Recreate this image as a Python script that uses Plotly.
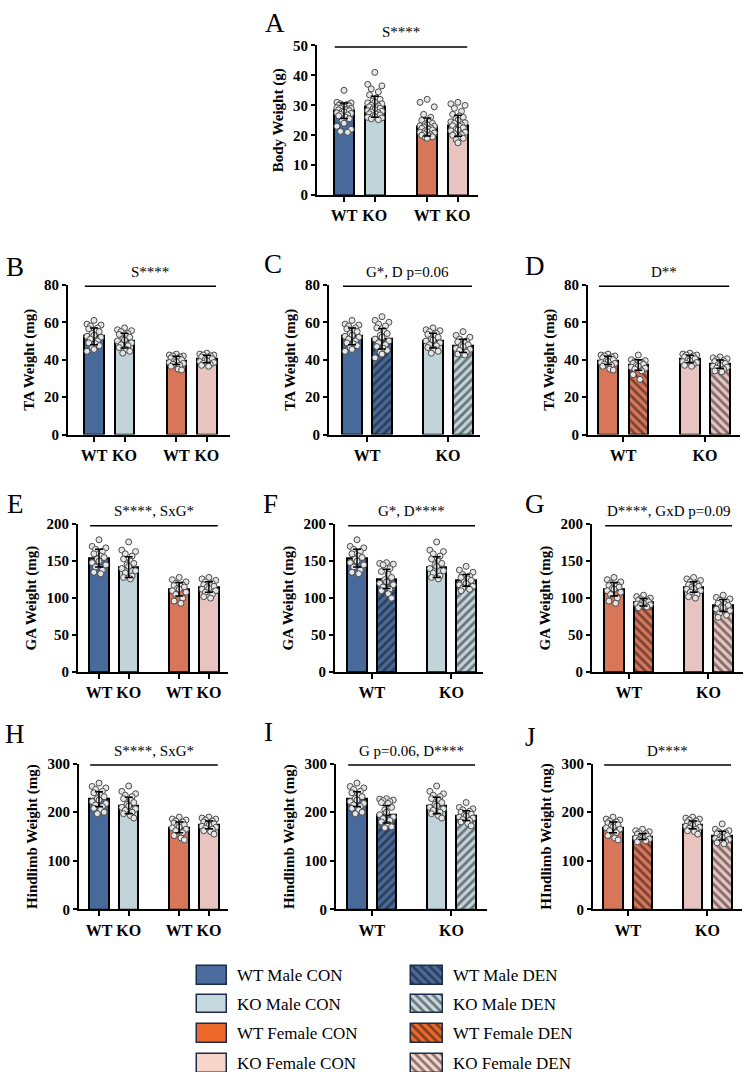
import plotly.graph_objects as go

# ---------------- DATA ----------------
BW_GROUPS = ["WT_M", "KO_M", "WT_F", "KO_F"]
BW_MEAN = [28.2, 29.5, 22.8, 23.2]
BW_SD = [2.6, 3.5, 3.0, 3.5]
BW_WT_M_PTS = [35.0, 31.0, 30.8, 30.5, 30.3, 30.0, 30.0, 29.8, 29.5, 29.5, 29.2, 29.0, 29.0, 28.8, 28.5,
               28.5, 28.2, 28.0, 27.8, 27.5, 27.3, 27.0, 26.8, 26.5, 26.0, 25.5, 25.0, 24.0, 23.0, 22.0, 21.3, 21.0]
BW_KO_M_PTS = [41.0, 37.0, 36.5, 35.5, 34.5, 33.5, 32.5, 32.0, 31.5, 31.0, 30.8, 30.5, 30.0, 29.8, 29.5,
               29.2, 29.0, 28.8, 28.5, 28.2, 28.0, 27.8, 27.5, 27.2, 27.0, 26.8, 26.5, 26.2, 26.0, 25.8, 25.5, 25.2]
BW_WT_F_PTS = [32.0, 31.0, 29.5, 27.0, 26.0, 25.0, 24.5, 24.0, 23.8, 23.5, 23.2, 23.0, 22.8, 22.5, 22.3,
               22.0, 21.8, 21.5, 21.2, 21.0, 20.8, 20.5, 20.2, 20.0, 19.8, 19.5, 19.2, 19.0]
BW_KO_F_PTS = [31.0, 30.5, 30.0, 29.0, 28.0, 27.0, 26.5, 26.0, 25.5, 25.0, 24.5, 24.2, 24.0, 23.5, 23.2,
               23.0, 22.5, 22.0, 21.8, 21.5, 21.0, 20.5, 20.2, 20.0, 19.5, 19.0, 18.5, 17.5]

GROUPS = ["WT_M_CON", "KO_M_CON", "WT_F_CON", "KO_F_CON", "WT_M_DEN", "KO_M_DEN", "WT_F_DEN", "KO_F_DEN"]

TA_MEAN = [52.5, 50.2, 39.6, 40.4, 51.2, 47.4, 37.2, 37.7]
TA_SD = [4.5, 4.0, 2.2, 2.0, 5.5, 3.5, 2.8, 2.2]
TA_WT_M_CON_PTS = [61.0, 59.0, 58.5, 58.0, 57.0, 56.5, 55.5, 55.0, 54.0, 53.0, 52.5, 52.0, 51.0, 50.0, 49.0, 48.5, 47.5, 46.5, 45.5, 44.5]
TA_KO_M_CON_PTS = [57.0, 56.0, 55.5, 55.0, 54.0, 53.5, 52.5, 52.0, 51.0, 50.5, 50.0, 49.0, 48.0, 47.5, 46.5, 45.5, 44.5, 43.5]
TA_WT_F_CON_PTS = [43.0, 42.5, 42.0, 42.0, 41.5, 41.0, 40.5, 40.0, 39.5, 39.0, 38.5, 38.0, 37.5, 37.0, 36.5, 35.0, 34.5]
TA_KO_F_CON_PTS = [43.5, 43.0, 42.5, 42.5, 42.0, 41.5, 41.0, 40.5, 40.0, 39.5, 39.0, 38.5, 38.0, 37.5, 37.0, 36.5]
TA_WT_M_DEN_PTS = [63.0, 61.0, 60.0, 59.0, 58.0, 57.0, 55.5, 54.0, 53.0, 52.0, 51.0, 50.0, 49.0, 48.0, 47.0, 46.0, 45.0, 44.0, 43.0, 41.0]
TA_KO_M_DEN_PTS = [55.0, 53.0, 52.0, 51.0, 50.0, 49.5, 49.0, 48.0, 47.5, 47.0, 46.0, 45.5, 45.0, 44.0, 43.0, 42.5]
TA_WT_F_DEN_PTS = [42.5, 40.0, 39.5, 39.0, 38.5, 38.0, 38.0, 37.5, 37.0, 36.5, 36.0, 35.5, 35.0, 34.0, 32.0, 29.5]
TA_KO_F_DEN_PTS = [41.5, 41.0, 40.5, 40.0, 39.5, 39.0, 38.5, 38.0, 37.5, 37.0, 36.5, 36.0, 35.5, 35.0, 34.0, 33.5]

GA_MEAN = [154, 142, 112, 115, 126, 124, 94.5, 90]
GA_SD = [12, 14, 9, 7, 13, 8, 5, 8]
GA_WT_M_CON_PTS = [179, 170, 168, 166, 163, 160, 157, 155, 153, 150, 148, 145, 142, 138, 135, 133]
GA_KO_M_CON_PTS = [176, 165, 163, 160, 157, 153, 150, 147, 145, 143, 140, 137, 134, 130, 128, 126]
GA_WT_F_CON_PTS = [128, 125, 122, 120, 118, 117, 116, 115, 113, 112, 110, 108, 105, 100, 96, 93]
GA_KO_F_CON_PTS = [128, 126, 124, 122, 120, 118, 117, 116, 115, 113, 112, 110, 108, 105, 102, 100]
GA_WT_M_DEN_PTS = [148, 147, 146, 145, 140, 136, 132, 128, 125, 122, 120, 118, 115, 112, 110, 106, 100]
GA_KO_M_DEN_PTS = [143, 138, 135, 132, 130, 128, 126, 124, 122, 120, 118, 116, 114, 112, 110]
GA_WT_F_DEN_PTS = [104, 102, 100, 99, 98, 97, 96, 95, 94, 93, 92, 91, 90, 88, 87]
GA_KO_F_DEN_PTS = [104, 101, 99, 97, 95, 93, 92, 90, 88, 87, 85, 83, 80, 77, 74]

HL_MEAN = [227, 214, 169, 174, 196, 193, 150, 152]
HL_SD = [15, 17, 11, 8, 18, 10, 6, 9]
HL_WT_M_CON_PTS = [260, 253, 250, 247, 243, 240, 235, 232, 228, 225, 222, 218, 215, 212, 208, 205, 200, 197]
HL_KO_M_CON_PTS = [254, 243, 238, 235, 232, 228, 225, 220, 216, 213, 210, 207, 204, 200, 197, 193, 188]
HL_WT_F_CON_PTS = [190, 186, 184, 182, 180, 178, 176, 174, 172, 170, 168, 165, 162, 158, 152, 147, 143]
HL_KO_F_CON_PTS = [190, 188, 186, 184, 182, 180, 178, 176, 175, 173, 171, 169, 167, 165, 162, 160, 155]
HL_WT_M_DEN_PTS = [228, 227, 225, 224, 222, 220, 218, 210, 205, 200, 195, 190, 187, 183, 180, 175, 170, 168]
HL_KO_M_DEN_PTS = [220, 210, 207, 205, 202, 200, 198, 196, 194, 192, 190, 188, 185, 183, 180, 177, 172]
HL_WT_F_DEN_PTS = [165, 162, 160, 158, 156, 155, 153, 151, 150, 148, 147, 145, 143, 141, 139]
HL_KO_F_DEN_PTS = [176, 165, 162, 160, 158, 156, 154, 152, 150, 148, 146, 144, 142, 140, 137, 135]

LEGEND_LABELS = ["WT Male CON", "KO Male CON", "WT Female CON", "KO Female CON",
                 "WT Male DEN", "KO Male DEN", "WT Female DEN", "KO Female DEN"]

# ---------------- STYLE ----------------
W, H = 744, 1080
FONT = "Liberation Serif"
BAR_COLOR = {"WT_M": "#476a9a", "KO_M": "#c0d4da", "WT_F": "#d8765a", "KO_F": "#e8c4c0"}
LEG_COLOR = {"WT_M": "#4a6b9b", "KO_M": "#c5d9de", "WT_F": "#ee6a2c", "KO_F": "#f8d5c9"}
POS = [0.0, 1.0, 2.7, 3.7]

BW_PTS = {"WT_M": BW_WT_M_PTS, "KO_M": BW_KO_M_PTS, "WT_F": BW_WT_F_PTS, "KO_F": BW_KO_F_PTS}
TA_PTS = dict(zip(GROUPS, [TA_WT_M_CON_PTS, TA_KO_M_CON_PTS, TA_WT_F_CON_PTS, TA_KO_F_CON_PTS,
                           TA_WT_M_DEN_PTS, TA_KO_M_DEN_PTS, TA_WT_F_DEN_PTS, TA_KO_F_DEN_PTS]))
GA_PTS = dict(zip(GROUPS, [GA_WT_M_CON_PTS, GA_KO_M_CON_PTS, GA_WT_F_CON_PTS, GA_KO_F_CON_PTS,
                           GA_WT_M_DEN_PTS, GA_KO_M_DEN_PTS, GA_WT_F_DEN_PTS, GA_KO_F_DEN_PTS]))
HL_PTS = dict(zip(GROUPS, [HL_WT_M_CON_PTS, HL_KO_M_CON_PTS, HL_WT_F_CON_PTS, HL_KO_F_CON_PTS,
                           HL_WT_M_DEN_PTS, HL_KO_M_DEN_PTS, HL_WT_F_DEN_PTS, HL_KO_F_DEN_PTS]))
TA_STATS = {g: (m, s) for g, m, s in zip(GROUPS, TA_MEAN, TA_SD)}
GA_STATS = {g: (m, s) for g, m, s in zip(GROUPS, GA_MEAN, GA_SD)}
HL_STATS = {g: (m, s) for g, m, s in zip(GROUPS, HL_MEAN, HL_SD)}
BW_STATS = {g: (m, s) for g, m, s in zip(BW_GROUPS, BW_MEAN, BW_SD)}

SEX_GROUPS = ["WT_M_CON", "KO_M_CON", "WT_F_CON", "KO_F_CON"]
MALE_GROUPS = ["WT_M_CON", "WT_M_DEN", "KO_M_CON", "KO_M_DEN"]
FEMALE_GROUPS = ["WT_F_CON", "WT_F_DEN", "KO_F_CON", "KO_F_DEN"]

PANELS = [
    dict(letter="A", lx=275, ly=15, L=317, R=478, first=344, sp=30.8, top=38, zero=190,
         ymax=50, dtick=10, title="Body Weight (g)", stats=BW_STATS, pts=BW_PTS, groups=BW_GROUPS,
         sig="S****", two=False),
    dict(letter="B", lx=15, ly=263, L=68, R=230, first=94, sp=30.5, top=281, zero=433,
         ymax=80, dtick=20, title="TA Weight (mg)", stats=TA_STATS, pts=TA_PTS, groups=SEX_GROUPS,
         sig="S****", two=False),
    dict(letter="C", lx=273, ly=260, L=329, R=480, first=352, sp=30.0, top=281, zero=433,
         ymax=80, dtick=20, title="TA Weight (mg)", stats=TA_STATS, pts=TA_PTS, groups=MALE_GROUPS,
         sig="G*, D p=0.06", two=True),
    dict(letter="D", lx=535, ly=262, L=588, R=740, first=608, sp=30.3, top=281, zero=433,
         ymax=80, dtick=20, title="TA Weight (mg)", stats=TA_STATS, pts=TA_PTS, groups=FEMALE_GROUPS,
         sig="D**", two=True),
    dict(letter="E", lx=15, ly=503, L=78, R=228, first=99, sp=29.7, top=524, zero=674,
         ymax=200, dtick=50, title="GA Weight (mg)", stats=GA_STATS, pts=GA_PTS, groups=SEX_GROUPS,
         sig="S****, SxG*", two=False),
    dict(letter="F", lx=270, ly=503, L=335, R=483, first=357, sp=29.5, top=524, zero=674,
         ymax=200, dtick=50, title="GA Weight (mg)", stats=GA_STATS, pts=GA_PTS, groups=MALE_GROUPS,
         sig="G*, D****", two=True),
    dict(letter="G", lx=535, ly=503, L=592, R=743, first=614, sp=29.5, top=524, zero=674,
         ymax=200, dtick=50, title="GA Weight (mg)", stats=GA_STATS, pts=GA_PTS, groups=FEMALE_GROUPS,
         sig="D****, GxD p=0.09", two=True),
    dict(letter="H", lx=15, ly=737, L=79, R=228, first=99, sp=29.7, top=767, zero=915,
         ymax=300, dtick=100, title="Hindlimb Weight (mg)", stats=HL_STATS, pts=HL_PTS, groups=SEX_GROUPS,
         sig="S****, SxG*", two=False),
    dict(letter="I", lx=268, ly=735, L=336, R=487, first=357, sp=29.5, top=767, zero=915,
         ymax=300, dtick=100, title="Hindlimb Weight (mg)", stats=HL_STATS, pts=HL_PTS, groups=MALE_GROUPS,
         sig="G p=0.06, D****", two=True),
    dict(letter="J", lx=530, ly=740, L=593, R=742, first=613, sp=29.5, top=767, zero=915,
         ymax=300, dtick=100, title="HIndlimb Weight (mg)", stats=HL_STATS, pts=HL_PTS, groups=FEMALE_GROUPS,
         sig="D****", two=True),
]

JIT = [0.0, -1.0, 1.0, -0.5, 0.5, -0.75, 0.25, 0.75, -0.25]


def jitter(vals, spread):
    order = sorted(range(len(vals)), key=lambda i: -vals[i])
    off = [0.0] * len(vals)
    for k, i in enumerate(order):
        off[i] = JIT[k % len(JIT)] * spread
    return off


def color_of(g):
    return BAR_COLOR[g[:4]]


def pattern_of(g):
    if g.endswith("DEN"):
        return "/" if "_M_" in g else "\\"
    return ""


fig = go.Figure()
layout = dict()
shapes = []
annotations = []

for i, P in enumerate(PANELS):
    n = i + 1
    xa = "x" if n == 1 else f"x{n}"
    ya = "y" if n == 1 else f"y{n}"
    xk = "xaxis" if n == 1 else f"xaxis{n}"
    yk = "yaxis" if n == 1 else f"yaxis{n}"
    sp = P["sp"]
    xr = [(P["L"] - P["first"]) / sp, (P["R"] - P["first"]) / sp]
    bw = 19.5 / sp
    groups = P["groups"]
    means = [P["stats"][g][0] for g in groups]
    sds = [P["stats"][g][1] for g in groups]

    # one bar trace per group so each gets its own scalar colour / hatch
    for p, g, m in zip(POS, groups, means):
        c = color_of(g)
        fig.add_trace(go.Bar(
            x=[p], y=[m], width=bw, xaxis=xa, yaxis=ya, showlegend=False,
            marker=dict(color=c, line=dict(color="black", width=2),
                        pattern=dict(shape=pattern_of(g), fgcolor="#111111", bgcolor=c,
                                     size=6, solidity=0.45)),
        ))
    for p, g in zip(POS, groups):
        vals = P["pts"][g]
        offs = jitter(vals, 0.23)
        fig.add_trace(go.Scatter(
            x=[p + o for o in offs], y=vals, mode="markers", xaxis=xa, yaxis=ya, showlegend=False,
            marker=dict(size=6, color="#e6e6e6", line=dict(color="#4a4a4a", width=1)),
        ))
    fig.add_trace(go.Scatter(
        x=POS, y=means, mode="markers", xaxis=xa, yaxis=ya, showlegend=False,
        marker=dict(size=1, color="rgba(0,0,0,0)"),
        error_y=dict(type="data", array=sds, color="black", thickness=1.5, width=4),
    ))

    if P["two"]:
        tickvals = [(POS[0] + POS[1]) / 2, (POS[2] + POS[3]) / 2]
        ticktext = ["WT", "KO"]
    else:
        tickvals = POS
        ticktext = ["WT", "KO", "WT", "KO"]

    layout[xk] = dict(
        domain=[P["L"] / W, P["R"] / W], range=xr, anchor=ya,
        showline=True, linecolor="black", linewidth=2, ticks="outside", ticklen=5, tickwidth=2,
        tickcolor="black", tickvals=tickvals, ticktext=ticktext, showgrid=False, zeroline=False,
        tickfont=dict(family=FONT, size=16, color="black", weight="bold"), fixedrange=True,
    )
    layout[yk] = dict(
        domain=[1 - P["zero"] / H, 1 - P["top"] / H], range=[0, P["ymax"]], anchor=xa,
        showline=True, linecolor="black", linewidth=2, ticks="outside", ticklen=4, tickwidth=2,
        tickcolor="black", dtick=P["dtick"], showgrid=False, zeroline=False,
        tickfont=dict(family=FONT, size=15, color="black", weight="bold"),
        title=dict(text=P["title"], font=dict(family=FONT, size=15, color="black", weight="bold"), standoff=6),
        fixedrange=True,
    )
    x0, x1 = POS[0] - 0.3, POS[-1] + 0.3
    shapes.append(dict(type="line", xref=xa, yref=ya, x0=x0, x1=x1, y0=P["ymax"] * 0.99, y1=P["ymax"] * 0.99,
                       line=dict(color="black", width=1.5)))
    annotations.append(dict(xref=xa, yref=ya, x=(x0 + x1) / 2, y=P["ymax"], yshift=13, text=P["sig"],
                            showarrow=False, font=dict(family=FONT, size=15, color="black")))
    annotations.append(dict(xref="paper", yref="paper", x=P["lx"] / W, y=1 - P["ly"] / H, text=P["letter"],
                            showarrow=False, xanchor="center", yanchor="middle",
                            font=dict(family=FONT, size=27, color="black")))

# ---------------- LEGEND (key swatches on a hidden axis) ----------------
LEG_ROWS = [982, 1011, 1041, 1071]
LEG_COLS = [(197, 30, 235), (411, 32, 451)]
for k, (g, lab) in enumerate(zip(GROUPS, LEGEND_LABELS)):
    col = LEG_COLS[0] if k < 4 else LEG_COLS[1]
    row = LEG_ROWS[k % 4]
    c = LEG_COLOR[g[:4]]
    fig.add_trace(go.Bar(
        orientation="h", y=[row], x=[col[1]], base=[col[0]], width=19, xaxis="x11", yaxis="y11",
        showlegend=False,
        marker=dict(color=c, line=dict(color="#1d2b4a", width=1.5),
                    pattern=dict(shape="\\" if g.endswith("DEN") else "", fgcolor="#111111", bgcolor=c,
                                 size=6, solidity=0.45)),
    ))
    annotations.append(dict(xref="paper", yref="paper", x=col[2] / W, y=1 - row / H, text=lab,
                            showarrow=False, xanchor="left", yanchor="middle",
                            font=dict(family=FONT, size=17, color="black")))

layout["xaxis11"] = dict(domain=[0, 1], range=[0, W], anchor="y11", visible=False, fixedrange=True)
layout["yaxis11"] = dict(domain=[0, 1 - 950 / H], range=[H, 950], anchor="x11", visible=False, fixedrange=True)

fig.update_layout(
    width=W, height=H, margin=dict(l=0, r=0, t=0, b=0),
    paper_bgcolor="white", plot_bgcolor="white",
    shapes=shapes, annotations=annotations, bargap=0, barmode="overlay",
    font=dict(family=FONT, color="black"),
    **layout,
)

fig.write_html(
    "out.html",
    config={"displayModeBar": False, "responsive": False},
    post_script="document.documentElement.style.margin='0';document.body.style.margin='0';"
                "document.body.style.overflow='hidden';document.documentElement.style.overflow='hidden';",
)
